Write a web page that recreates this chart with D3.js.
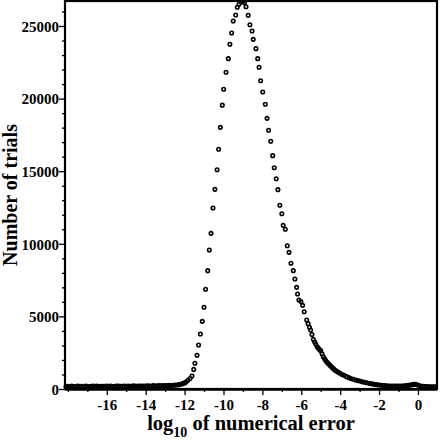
<!DOCTYPE html>
<html>
<head>
<meta charset="utf-8">
<script src="https://cdn.jsdelivr.net/npm/d3@7"></script>
<style>
  html, body { margin: 0; padding: 0; background: #fff; }
  svg { display: block; }
</style>
</head>
<body>
<svg id="chart" width="440" height="444"></svg>
<script>
// log10 of numerical error (x) and number of trials (y)
const errLog = [
  -18.1,-18.0,-17.9,-17.8,-17.7,-17.6,-17.5,-17.4,-17.3,-17.2,
  -17.1,-17.0,-16.9,-16.8,-16.7,-16.6,-16.5,-16.4,-16.3,-16.2,
  -16.1,-16.0,-15.9,-15.8,-15.7,-15.6,-15.5,-15.4,-15.3,-15.2,
  -15.1,-15.0,-14.9,-14.8,-14.7,-14.6,-14.5,-14.4,-14.3,-14.2,
  -14.1,-14.0,-13.9,-13.8,-13.7,-13.6,-13.5,-13.4,-13.3,-13.2,
  -13.1,-13.0,-12.9,-12.8,-12.7,-12.6,-12.5,-12.4,-12.3,-12.2,
  -12.1,-12.0,-11.93,-11.83,-11.72,-11.62,-11.53,-11.47,-11.36,-11.28,
  -11.19,-11.09,-11.0,-10.92,-10.81,-10.73,-10.64,-10.54,-10.44,-10.33,
  -10.25,-10.16,-10.06,-9.99,-9.87,-9.75,-9.67,-9.58,-9.5,-9.37,
  -9.29,-9.2,-9.1,-9.0,-8.92,
  -8.84,-8.73,-8.64,-8.53,-8.47,-8.33,-8.24,-8.17,-8.09,-7.98,
  -7.85,-7.76,-7.68,-7.57,-7.47,-7.39,-7.29,-7.2,-7.1,-7.0,
  -6.93,-6.82,-6.72,-6.63,-6.53,-6.41,-6.33,-6.24,-6.19,-6.12,
  -6.02,-5.93,-5.85,-5.72,-5.65,-5.58,-5.52,-5.45,-5.38,-5.31,
  -5.25,-5.18,-5.12,-5.06,-5.0,-4.93,-4.87,-4.8,-4.75,-4.7,
  -4.63,-4.56,-4.49,-4.42,-4.35,-4.27,-4.2,-4.1,-4.01,-3.9,
  -3.8,-3.67,-3.55,-3.45,-3.33,-3.2,-3.1,-2.98,-2.87,-2.75,
  -2.64,-2.5,-2.4,-2.3,-2.2,-2.12,-2.0,-1.9,-1.8,-1.7,
  -1.6,-1.5,-1.4,-1.3,-1.2,-1.1,-1.0,-0.9,-0.8,-0.7,
  -0.6,-0.5,-0.4,-0.3,-0.2,-0.15,-0.1,0.0,0.1,0.2,
  0.3,0.4,0.5,0.6,0.7,0.8,0.9
];
const trials = [
  160,190,150,200,170,160,210,180,190,160,
  200,180,160,190,210,180,200,160,190,180,
  190,210,180,200,160,190,200,210,180,190,
  200,190,210,180,200,220,190,200,210,200,
  210,200,220,200,210,230,210,220,230,220,
  230,240,230,250,240,260,270,280,300,330,
  370,420,480,600,720,900,1350,1770,2320,3030,
  3790,4660,5630,6870,8150,9570,10720,12470,13750,15100,
  16510,18020,19550,20640,21810,22750,23740,24520,25340,25760,
  26290,26500,26650,26700,26600,
  26330,25740,25090,24660,24080,23440,22750,22160,21230,20450,
  19610,18640,17820,17060,16070,15240,14480,13730,12650,12070,
  11270,11000,9870,9410,8660,8150,7580,7000,6540,6130,
  6020,5760,5320,4750,4500,4250,4060,3750,3420,3230,
  3080,2910,2800,2720,2640,2420,2220,2080,1980,1880,
  1780,1680,1580,1490,1400,1310,1240,1160,1080,1000,
  940,850,780,720,670,620,580,550,500,470,
  430,390,360,340,310,300,280,260,240,230,
  220,210,210,200,200,210,200,210,210,220,
  230,250,270,300,320,330,310,270,220,190,
  180,170,170,160,160,150,150
];
const xTickLabels = [-16, -14, -12, -10, -8, -6, -4, -2, 0];
const xMinorTicks = [-18, -17, -15, -13, -11, -9, -7, -5, -3, -1];
const yTickLabels = [0, 5000, 10000, 15000, 20000, 25000];
const yMinorTicks = [1000,2000,3000,4000,6000,7000,8000,9000,11000,12000,13000,14000,
                     16000,17000,18000,19000,21000,22000,23000,24000,26000];

const svg = d3.select("#chart");
const pL = 65, pR = 437, pT = 1, pB = 389;

const x = d3.scaleLinear().domain([-18.15, 0.98]).range([pL, pR]);
const y = d3.scaleLinear().domain([0, 26790]).range([pB, 0]);

const font = "'Liberation Serif', 'Times New Roman', serif";

// points
const pts = svg.append("g");
pts.selectAll("circle")
  .data(errLog.map((d, i) => [d, trials[i]]))
  .join("circle")
  .attr("cx", d => x(d[0]))
  .attr("cy", d => y(d[1]))
  .attr("r", 1.75)
  .attr("fill", "none")
  .attr("stroke", "#000")
  .attr("stroke-width", 1.6);

// axes
const xAxis = d3.axisBottom(x).tickValues(xTickLabels).tickSize(6).tickSizeOuter(0)
  .tickFormat(d => String(d));
const gx = svg.append("g").attr("transform", `translate(0,${pB})`).call(xAxis);
gx.select(".domain").remove();
gx.selectAll(".tick line").attr("stroke", "#000").attr("stroke-width", 1.3);
gx.selectAll(".tick text").attr("font-family", font).attr("font-weight", "bold")
  .attr("font-size", 15).attr("fill", "#000").attr("dy", "0.85em").attr("y", 8);

const gxm = svg.append("g").attr("transform", `translate(0,${pB})`)
  .call(d3.axisBottom(x).tickValues(xMinorTicks).tickSize(3).tickFormat(""));
gxm.select(".domain").remove();
gxm.selectAll(".tick line").attr("stroke", "#000").attr("stroke-width", 1.3);

const yAxis = d3.axisLeft(y).tickValues(yTickLabels).tickSize(6).tickSizeOuter(0)
  .tickFormat(d => String(d));
const gy = svg.append("g").attr("transform", `translate(${pL},0)`).call(yAxis);
gy.select(".domain").remove();
gy.selectAll(".tick line").attr("stroke", "#000").attr("stroke-width", 1.3);
gy.selectAll(".tick text").attr("font-family", font).attr("font-weight", "bold")
  .attr("font-size", 15).attr("fill", "#000").attr("x", -6).attr("dy", "0.35em");

const gym = svg.append("g").attr("transform", `translate(${pL},0)`)
  .call(d3.axisLeft(y).tickValues(yMinorTicks).tickSize(3).tickFormat(""));
gym.select(".domain").remove();
gym.selectAll(".tick line").attr("stroke", "#000").attr("stroke-width", 1.3);

// frame
svg.append("rect")
  .attr("x", pL).attr("y", pT)
  .attr("width", pR - pL).attr("height", pB - pT)
  .attr("fill", "none").attr("stroke", "#000").attr("stroke-width", 2.2);
svg.append("line")
  .attr("x1", pL).attr("x2", pR).attr("y1", pB + 1).attr("y2", pB + 1)
  .attr("stroke", "#000").attr("stroke-width", 1.5);

// axis titles
const xt = svg.append("text")
  .attr("x", (pL + pR) / 2).attr("y", 430)
  .attr("text-anchor", "middle")
  .attr("font-family", font).attr("font-weight", "bold").attr("font-size", 20.5)
  .attr("fill", "#000");
xt.append("tspan").text("log");
xt.append("tspan").attr("font-size", 14).attr("dy", 7).text("10");
xt.append("tspan").attr("dy", -7).text(" of numerical error");

svg.append("text")
  .attr("transform", `translate(17,${(pT + pB) / 2}) rotate(-90)`)
  .attr("text-anchor", "middle")
  .attr("font-family", font).attr("font-weight", "bold").attr("font-size", 20)
  .attr("fill", "#000")
  .text("Number of trials");
</script>
</body>
</html>
